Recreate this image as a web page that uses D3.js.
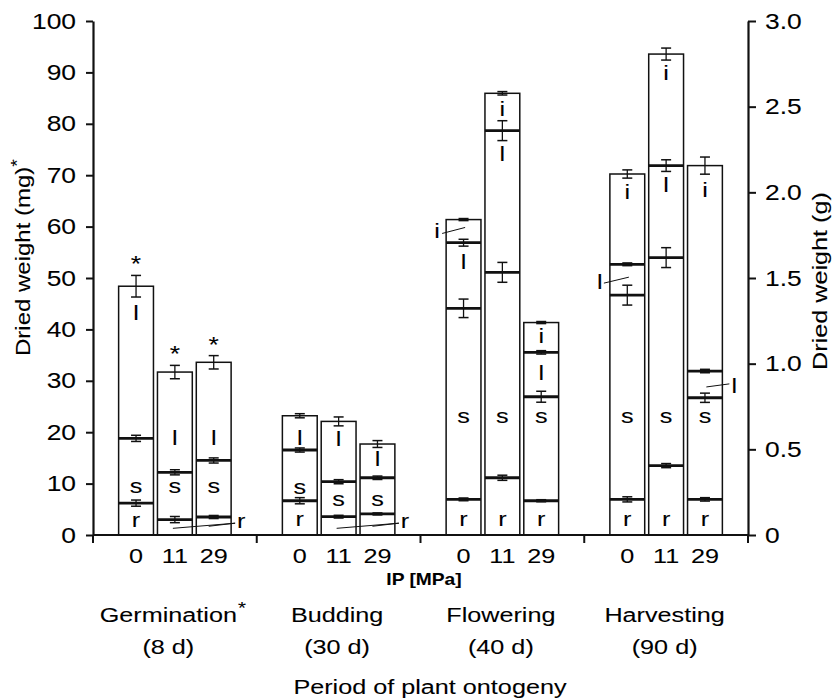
<!DOCTYPE html>
<html><head><meta charset="utf-8">
<script src="https://cdn.jsdelivr.net/npm/d3@7"></script>
<style>
body{margin:0;background:#fff;}
text{font-family:"Liberation Sans", Arial, sans-serif; fill:#000; stroke:#000; stroke-width:0.08;}
</style></head><body>
<svg id="chart" width="832" height="700"></svg>
<script>
// ---------- data ----------
const periods = ["Germination", "Budding", "Flowering", "Harvesting"];
const periodDays = ["(8 d)", "(30 d)", "(40 d)", "(90 d)"];
const pressures = ["0", "11", "29"];
const organs = ["r", "s", "l", "i"];
// segment values (Germination in mg, the other periods in g)
const rootVals = [[6.2, 3.0, 3.5], [0.200, 0.107, 0.123], [0.208, 0.334, 0.200], [0.208, 0.405, 0.208]];
const stemVals = [[12.6, 9.2, 11.0], [0.296, 0.204, 0.211], [1.115, 1.199, 0.607], [1.192, 1.214, 0.593]];
const leafVals = [[29.6, 19.5, 19.1], [0.200, 0.352, 0.197], [0.383, 0.827, 0.259], [0.180, 0.537, 0.156]];
const inflVals = [[0, 0, 0], [0, 0, 0], [0.135, 0.218, 0.174], [0.527, 0.651, 1.199]];
// error (±) at the cumulative top of each segment
const rootErr = [[0.6, 0.6, 0.3], [0.018, 0.008, 0.006], [0.008, 0.015, 0.006], [0.015, 0.012, 0.010]];
const stemErr = [[0.6, 0.5, 0.5], [0.012, 0.012, 0.010], [0.054, 0.058, 0.032], [0.058, 0.058, 0.027]];
const leafErr = [[2.1, 1.3, 1.3], [0.012, 0.026, 0.020], [0.020, 0.058, 0.010], [0.008, 0.034, 0.010]];
const inflErr = [[0, 0, 0], [0, 0, 0], [0.006, 0.010, 0.006], [0.024, 0.035, 0.050]];
const starredPeriods = ["Germination"];
const leftTicks = [0, 10, 20, 30, 40, 50, 60, 70, 80, 90, 100];
const rightTicks = [0, 0.5, 1.0, 1.5, 2.0, 2.5, 3.0];

// ---------- layout (label placement, in the period's own units) ----------
const labelPos = [
  [{r: 2.7, s: 9.3, l: 43.4}, {s: 9.3, l: 18.9}, {s: 9.3, l: 18.9}],
  [{r: 0.082, s: 0.274, l: 0.572}, {s: 0.204, l: 0.566}, {s: 0.204, l: 0.449}],
  [{r: 0.082, s: 0.683, l: 1.599}, {r: 0.082, s: 0.683, l: 2.23, i: 2.492}, {r: 0.082, s: 0.683, l: 0.951, i: 1.167}],
  [{r: 0.082, s: 0.683, i: 2.008}, {r: 0.082, s: 0.683, l: 2.049, i: 2.702}, {r: 0.082, s: 0.683, i: 2.019}]
];

// ---------- setup ----------
const svg = d3.select("#chart");
const X0 = 93, X1 = 748, Y0 = 535, Y1 = 21;
const SX = 1.2; // horizontal stretch of the lettering
const yL = d3.scaleLinear().domain([0, 100]).range([Y0, Y1]);
const yR = d3.scaleLinear().domain([0, 3]).range([Y0, Y1]);
const yFor = p => p === 0 ? yL : yR;
const xOuter = d3.scaleBand().domain(periods).range([X0, X1]).padding(0);
const xInner = d3.scaleBand().domain(pressures).range([0, xOuter.bandwidth()])
  .paddingInner(0.103).paddingOuter(0.66);
const bw = xInner.bandwidth();
const ink = "#111";
const baseShift = {r: 5.5, s: 5.5, l: 7.6, i: 7.6};

function stretch(sel, origin) {
  sel.style("transform-box", "fill-box").style("transform-origin", origin + " center")
     .style("transform", `scaleX(${SX})`);
  return sel;
}
function label(parent, txt, x, y, size, anchor) {
  const t = parent.append("text").attr("x", x).attr("y", y).attr("font-size", size)
    .attr("text-anchor", anchor || "middle").text(txt);
  return stretch(t, anchor === "start" ? "left" : anchor === "end" ? "right" : "center");
}

const segVals = [rootVals, stemVals, leafVals, inflVals];
const segErrs = [rootErr, stemErr, leafErr, inflErr];

const g = svg.append("g");

periods.forEach((per, p) => {
  const y = yFor(p);
  pressures.forEach((pr, b) => {
    const x = xOuter(per) + xInner(pr);
    const cx = x + bw / 2;
    let cum = 0;
    const tops = [];
    organs.forEach((o, k) => {
      const v = segVals[k][p][b];
      if (v > 0) { cum += v; tops.push({o, top: cum, err: segErrs[k][p][b]}); }
    });
    g.append("rect").attr("x", x).attr("y", y(cum)).attr("width", bw).attr("height", y(0) - y(cum))
      .attr("fill", "#fff").attr("stroke", ink).attr("stroke-width", 1.5);
    tops.slice(0, -1).forEach(t => {
      g.append("line").attr("x1", x).attr("x2", x + bw).attr("y1", y(t.top)).attr("y2", y(t.top))
        .attr("stroke", ink).attr("stroke-width", 2.8);
    });
    tops.forEach(t => {
      const ya = y(t.top + t.err), yb = y(t.top - t.err);
      g.append("line").attr("x1", cx).attr("x2", cx).attr("y1", ya).attr("y2", yb).attr("stroke", ink).attr("stroke-width", 1.3);
      [ya, yb].forEach(yy => g.append("line").attr("x1", cx - 5).attr("x2", cx + 5).attr("y1", yy).attr("y2", yy)
        .attr("stroke", ink).attr("stroke-width", 1.5));
    });
    if (starredPeriods.includes(per)) {
      const last = tops[tops.length - 1];
      label(g, "*", cx, y(last.top + last.err) - 4, 22);
    }
    const lp = labelPos[p][b];
    Object.keys(lp).forEach(o => label(g, o, cx, y(lp[o]) + baseShift[o], 21));
  });
});

// outside labels with leader lines
function barX(p, b) { return xOuter(periods[p]) + xInner(pressures[b]); }
function leader(x1, y1, x2, y2) {
  g.append("line").attr("x1", x1).attr("y1", y1).attr("x2", x2).attr("y2", y2)
    .attr("stroke", ink).attr("stroke-width", 1);
}
[0, 1].forEach(p => {
  const y = yFor(p), u = p === 0 ? 1 : 0.03;
  const xr = barX(p, 2) + bw;
  leader(barX(p, 1) + bw / 2 - 2, y(1.3 * u), xr + 4, y(2.3 * u));
  leader(barX(p, 2) + bw / 2 - 5, y(1.7 * u), xr + 4, y(2.3 * u));
  label(g, "r", xr + 10, y(2.5 * u) + baseShift.r, 21);
});
leader(barX(2, 0) - 4, yR(1.76), barX(2, 0) + 19, yR(1.795));
label(g, "i", barX(2, 0) - 9, yR(1.78) + baseShift.i, 21);
leader(barX(3, 0) - 6, yR(1.47), barX(3, 0) + 19, yR(1.505));
label(g, "l", barX(3, 0) - 10, yR(1.48) + baseShift.l, 21);
leader(barX(3, 2) + bw - 16, yR(0.864), barX(3, 2) + bw + 7, yR(0.882));
label(g, "l", barX(3, 2) + bw + 12, yR(0.876) + baseShift.l, 21);

// ---------- axes ----------
const axL = svg.append("g").attr("transform", `translate(${X0},0)`)
  .call(d3.axisLeft(yL).tickValues(leftTicks).tickSize(7).tickSizeOuter(0).tickPadding(10));
const axR = svg.append("g").attr("transform", `translate(${X1},0)`)
  .call(d3.axisRight(yR).tickValues(rightTicks).tickSize(8).tickSizeOuter(0).tickPadding(9)
    .tickFormat(d => d === 0 ? "0" : d3.format(".1f")(d)));
[axL, axR].forEach((a, k) => {
  a.select(".domain").attr("stroke", ink).attr("stroke-width", 2.2);
  a.selectAll(".tick line").attr("stroke", ink).attr("stroke-width", 2);
  const tt = a.selectAll(".tick text").attr("font-size", 22).attr("font-family", "Liberation Sans, Arial, sans-serif")
    .attr("fill", "#000");
  stretch(tt, k === 0 ? "right" : "left");
});

const axB = svg.append("g");
axB.append("line").attr("x1", X0).attr("x2", X1).attr("y1", Y0).attr("y2", Y0).attr("stroke", ink).attr("stroke-width", 2.2);
const seps = periods.map(p => xOuter(p)).concat([X1]);
seps.forEach(sx => axB.append("line").attr("x1", sx).attr("x2", sx).attr("y1", Y0).attr("y2", Y0 + 8)
  .attr("stroke", ink).attr("stroke-width", 2));
periods.forEach((per, p) => {
  pressures.forEach(pr => label(axB, pr, xOuter(per) + xInner(pr) + bw / 2, 563, 21));
  const starred = starredPeriods.includes(per);
  const cx = xOuter(per) + xOuter.bandwidth() / 2 - (starred ? 6.5 : 1.5);
  const t = label(axB, per, cx, 622, 21);
  if (starred) {
    const w = t.node().getBBox().width * SX;
    label(axB, "*", cx + w / 2 + 1, 614, 17, "start");
  }
  label(axB, periodDays[p], cx, 654, 21);
});
label(axB, "IP [MPa]", 424, 585, 16).attr("font-weight", "bold");
label(axB, "Period of plant ontogeny", 430, 694, 21);

// axis titles (rotated; stretch along the text direction)
const lt = svg.append("text").attr("transform", `translate(30,356) rotate(-90) scale(${SX},1)`).attr("font-size", 20);
lt.append("tspan").text("Dried weight (mg)");
lt.append("tspan").attr("dy", -7).attr("font-size", 16).text("*");
svg.append("text").attr("transform", `translate(827,370) rotate(-90) scale(${SX},1)`).attr("font-size", 21)
  .text("Dried weight (g)");
</script>
</body></html>
